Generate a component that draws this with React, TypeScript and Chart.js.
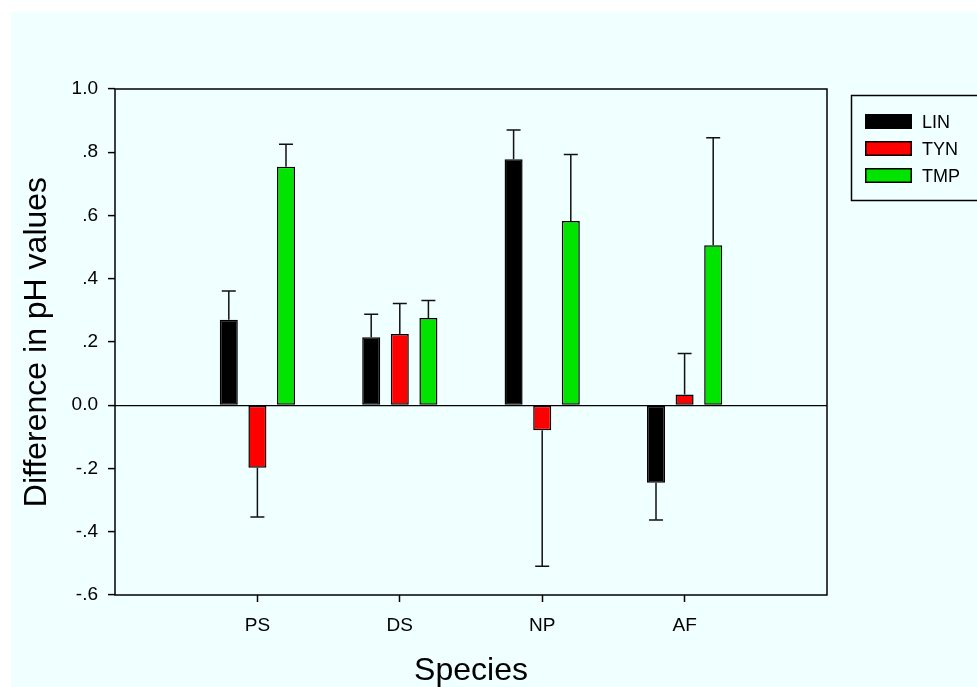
import React, { useEffect, useRef } from 'react';
import { Chart, registerables } from 'chart.js';

Chart.register(...registerables);

const categories = ['PS', 'DS', 'NP', 'AF'];
const seriesNames = ['LIN', 'TYN', 'TMP'];
const linValues = [0.27, 0.215, 0.778, -0.245];
const linErrors = [0.091, 0.073, 0.092, 0.118];
const tynValues = [-0.198, 0.225, -0.079, 0.034];
const tynErrors = [0.155, 0.097, 0.43, 0.13];
const tmpValues = [0.754, 0.276, 0.583, 0.506];
const tmpErrors = [0.071, 0.055, 0.21, 0.34];
const seriesColors = ['#000000', '#FF0000', '#00E400'];
const yTickValues = [-0.6, -0.4, -0.2, 0, 0.2, 0.4, 0.6, 0.8, 1.0];
const yTickLabels = ['-.6', '-.4', '-.2', '0.0', '.2', '.4', '.6', '.8', '1.0'];
const xTitle = 'Species';
const yTitle = 'Difference in pH values';

const FONT = '"Liberation Sans", Arial, sans-serif';

const pad = (arr: number[]) => [null, ...arr, null];

const backgroundPlugin = {
  id: 'bg',
  beforeDraw(chart: any) {
    const { ctx, width, height } = chart;
    ctx.save();
    ctx.fillStyle = '#FFFFFF';
    ctx.fillRect(0, 0, width, height);
    ctx.fillStyle = '#F0FFFF';
    ctx.fillRect(11, 12, width - 11, height - 12);
    ctx.restore();
  },
};

const errorBarPlugin = {
  id: 'errbars',
  afterDatasetsDraw(chart: any) {
    const { ctx } = chart;
    const yScale = chart.scales.y;
    ctx.save();
    ctx.strokeStyle = '#111111';
    ctx.lineWidth = 1.5;
    chart.data.datasets.forEach((ds: any, di: number) => {
      const meta = chart.getDatasetMeta(di);
      meta.data.forEach((bar: any, i: number) => {
        const v = ds.data[i];
        const e = ds.errors[i];
        if (v == null || e == null) return;
        const end = yScale.getPixelForValue(v + Math.sign(v) * e);
        ctx.beginPath();
        ctx.moveTo(bar.x, bar.y);
        ctx.lineTo(bar.x, end);
        ctx.moveTo(bar.x - 7, end);
        ctx.lineTo(bar.x + 7, end);
        ctx.stroke();
      });
    });
    // frame
    const a = chart.chartArea;
    ctx.strokeStyle = '#000000';
    ctx.lineWidth = 1.5;
    ctx.strokeRect(a.left, a.top, a.right - a.left, a.bottom - a.top);
    ctx.restore();
  },
};

const legendPlugin = {
  id: 'customLegend',
  afterDraw(chart: any) {
    const { ctx } = chart;
    ctx.save();
    ctx.strokeStyle = '#000000';
    ctx.lineWidth = 1.5;
    ctx.strokeRect(851.5, 95.5, 200, 105);
    chart.data.datasets.forEach((ds: any, i: number) => {
      const cy = 121.5 + i * 27;
      ctx.fillStyle = ds.backgroundColor;
      ctx.fillRect(865, cy - 7.5, 47, 15);
      ctx.lineWidth = 1.5;
      ctx.strokeStyle = '#000000';
      ctx.strokeRect(865.75, cy - 6.75, 45.5, 13.5);
      ctx.fillStyle = '#000000';
      ctx.font = `18px ${FONT}`;
      ctx.textAlign = 'left';
      ctx.textBaseline = 'middle';
      ctx.fillText(ds.label, 922, cy + 2);
    });
    ctx.restore();
  },
};

export default function App() {
  const canvasRef = useRef<HTMLCanvasElement | null>(null);

  useEffect(() => {
    const canvas = canvasRef.current;
    if (!canvas) return;
    const valueSets = [linValues, tynValues, tmpValues];
    const errorSets = [linErrors, tynErrors, tmpErrors];
    const chart = new Chart(canvas, {
      type: 'bar',
      data: {
        labels: ['', ...categories, ''],
        datasets: seriesNames.map((name, i) => ({
          label: name,
          data: pad(valueSets[i]),
          errors: pad(errorSets[i]),
          backgroundColor: seriesColors[i],
          borderColor: '#000000',
          borderWidth: 1.5,
          borderSkipped: false,
          categoryPercentage: 0.6025,
          barPercentage: 0.63,
        })) as any,
      },
      options: {
        animation: false,
        responsive: false,
        devicePixelRatio: 1,
        layout: { padding: { left: 0, top: 89, right: 150, bottom: 0 } },
        plugins: {
          legend: { display: false },
          tooltip: { enabled: false },
        },
        scales: {
          x: {
            type: 'category',
            offset: false,
            afterFit(scale: any) {
              scale.height = 92;
            },
            grid: {
              offset: false,
              drawOnChartArea: false,
              drawTicks: true,
              tickLength: 7,
              tickWidth: 1.5,
              color: (c: any) => (c.index === 0 || c.index === 5 ? 'rgba(0,0,0,0)' : '#000000'),
            },
            border: { display: false },
            ticks: {
              autoSkip: false,
              maxRotation: 0,
              padding: 12,
              color: '#000000',
              font: { family: FONT, size: 19 },
            },
            title: {
              display: true,
              text: xTitle,
              color: '#000000',
              font: { family: FONT, size: 32, lineHeight: 1 },
              padding: { top: 0, bottom: 0 },
            },
          },
          y: {
            type: 'linear',
            min: -0.6,
            max: 1.0,
            afterFit(scale: any) {
              scale.width = 115;
            },
            afterBuildTicks(scale: any) {
              scale.ticks = yTickValues.map((v) => ({ value: v }));
            },
            grid: {
              drawOnChartArea: true,
              drawTicks: true,
              tickLength: 7,
              tickColor: '#000000',
              tickWidth: 1.5,
              lineWidth: 1.2,
              color: (c: any) => (c.tick && c.tick.value === 0 ? '#000000' : 'rgba(0,0,0,0)'),
            },
            border: { display: false },
            ticks: {
              padding: 10,
              color: '#000000',
              font: { family: FONT, size: 19 },
              callback: (_v: any, i: number) => yTickLabels[i],
            },
            title: {
              display: true,
              text: yTitle,
              color: '#000000',
              font: { family: FONT, size: 32, lineHeight: 1 },
              padding: { top: 21, bottom: 0 },
            },
          },
        },
      },
      plugins: [backgroundPlugin, errorBarPlugin, legendPlugin],
    } as any);
    return () => chart.destroy();
  }, []);

  return (
    <div style={{ position: 'fixed', left: 0, top: 0, width: 977, height: 687 }}>
      <canvas ref={canvasRef} width={977} height={687} style={{ display: 'block', width: 977, height: 687 }} />
    </div>
  );
}
